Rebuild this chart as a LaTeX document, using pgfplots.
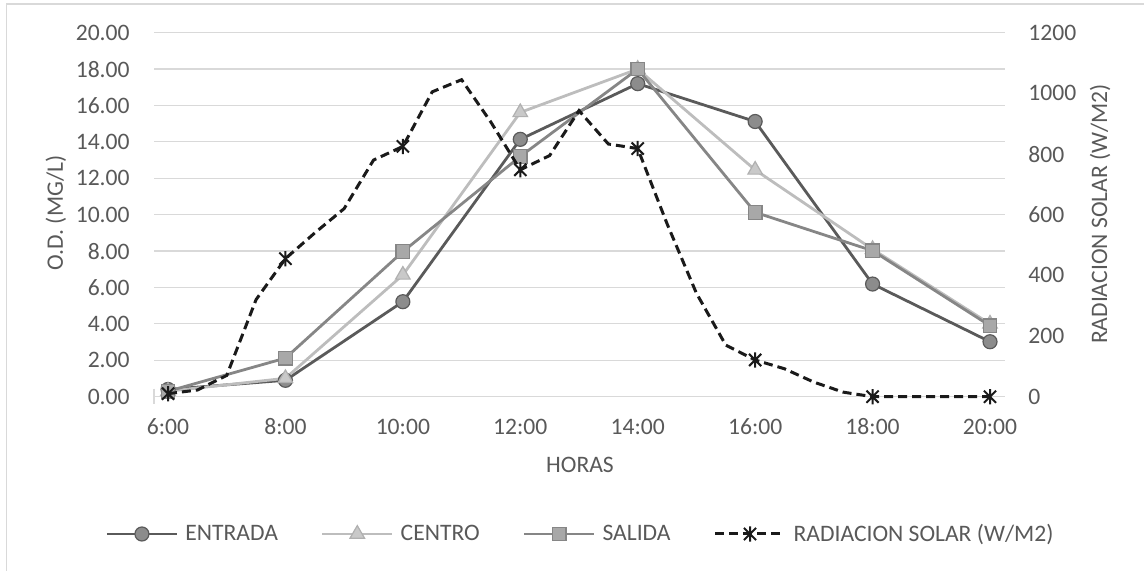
\documentclass[border=0pt]{standalone}
\usepackage{pgfplots}
\pgfplotsset{compat=1.18}
\usepackage{fontspec}
\setmainfont{Carlito}
\definecolor{txt}{HTML}{595959}
\definecolor{gridc}{HTML}{D9D9D9}
\definecolor{entl}{HTML}{5A5A5A}
\definecolor{entf}{HTML}{8C8C8C}
\definecolor{cenl}{HTML}{BDBDBD}
\definecolor{cenf}{HTML}{C9C9C9}
\definecolor{cene}{HTML}{B0B0B0}
\definecolor{sall}{HTML}{868686}
\definecolor{salf}{HTML}{A8A8A8}
\definecolor{radl}{HTML}{1A1A1A}
\pgfdeclareplotmark{xstar}{%
  \pgfpathmoveto{\pgfqpoint{0pt}{-\pgfplotmarksize}}%
  \pgfpathlineto{\pgfqpoint{0pt}{\pgfplotmarksize}}%
  \pgfpathmoveto{\pgfqpoint{-0.8\pgfplotmarksize}{-0.8\pgfplotmarksize}}%
  \pgfpathlineto{\pgfqpoint{0.8\pgfplotmarksize}{0.8\pgfplotmarksize}}%
  \pgfpathmoveto{\pgfqpoint{-0.8\pgfplotmarksize}{0.8\pgfplotmarksize}}%
  \pgfpathlineto{\pgfqpoint{0.8\pgfplotmarksize}{-0.8\pgfplotmarksize}}%
  \pgfusepathqstroke}
\newcommand{\lf}{\fontsize{11.8pt}{14pt}\selectfont}
\pgfplotsset{
  base/.style={scale only axis, width=425.5pt, height=182pt,
    at={(77pt,87.15pt)}, anchor=south west,
    xmin=5.7615, xmax=20.2555, ymin=0,
    tick style={draw=none},
    /pgf/number format/assume math mode=true,
    /pgf/number format/1000 sep={},
    ticklabel style={font=\lf, text=txt, inner sep=0pt},
  },
  entrada/.style={color=entl, line width=1.4pt, mark=*, mark size=3.5pt,
    mark options={fill=entf, draw=entl, line width=0.6pt}},
  centro/.style={color=cenl, line width=1.4pt, mark=triangle*, mark size=4.2pt,
    mark options={fill=cenf, draw=cene, line width=0.6pt}},
  salida/.style={color=sall, line width=1.4pt, mark=square*, mark size=3.4pt,
    mark options={fill=salf, draw=sall, line width=0.6pt}},
  radiacion/.style={color=radl, line width=1.5pt, dash pattern=on 4.5pt off 2.5pt,
    mark=xstar, mark size=3.8pt, mark repeat=4,
    mark options={solid, line width=1pt}},
}
\pgfplotstableread{
h  ent  cen  sal
6  0.40 0.30 0.30
8  0.90 1.01 2.12
10 5.22 6.69 7.97
12 14.14 15.62 13.20
14 17.20 18.00 18.00
16 15.12 12.46 10.13
18 6.19 8.10 8.02
20 3.02 4.00 3.90
}\odtable
\pgfplotstableread{
h    rad
6.0  10
6.5  22
7.0  70
7.5  320
8.0  455
8.5  540
9.0  620
9.5  780
10.0 825
10.5 1005
11.0 1045
11.5 905
12.0 748
12.5 795
13.0 943
13.5 833
14.0 818
14.5 570
15.0 341
15.5 170
16.0 121
16.5 92
17.0 48
17.5 15
18.0 0
18.5 0
19.0 0
19.5 0
20.0 0
}\radtable
\begin{document}
\begin{tikzpicture}
\useasboundingbox (0,0) rectangle (572pt,285.5pt);
\draw[gridc, line width=0.6pt] (3.35pt,-10pt) -- (3.35pt,283.5pt) -- (600pt,283.5pt);
\begin{axis}[base, ymax=20,
  axis x line*=bottom, axis y line*=left,
  x axis line style={draw=gridc, line width=0.6pt, -},
  y axis line style={draw=none},
  ytick={0,2,...,20},
  yticklabel={\pgfmathprintnumber[fixed,fixed zerofill,precision=2]{\tick}},
  yticklabel style={anchor=east, xshift=-12pt},
  xtick={6,8,...,20},
  xticklabels={6:00,8:00,10:00,12:00,14:00,16:00,18:00,20:00},
  xticklabel style={anchor=base, yshift=-18.7pt},
  ymajorgrids, grid style={draw=gridc, line width=0.6pt},
  clip=false,
]
\addplot[entrada] table[x=h, y=ent] {\odtable};
\addplot[centro] table[x=h, y=cen] {\odtable};
\addplot[salida] table[x=h, y=sal] {\odtable};
\end{axis}
\begin{axis}[base, ymax=1200,
  axis y line*=right, axis x line=none,
  y axis line style={draw=none},
  ytick={0,200,...,1200},
  yticklabel={\pgfmathprintnumber[fixed,precision=0]{\tick}},
  yticklabel style={anchor=west, xshift=11.5pt},
  clip=false,
  legend columns=4,
  legend cell align=left,
  legend image code/.code={\path[draw=none, fill=none] (0pt,-4pt) rectangle (35pt,4pt);
    \draw[mark repeat=2, mark phase=2, #1] plot coordinates {(0pt,0pt) (17.5pt,0pt) (35pt,0pt)};},
  legend style={at={(0.5,-0.3772)}, anchor=center, draw=none, fill=none,
    inner sep=0pt, font=\lf, text=txt,
    nodes={inner sep=0pt, text=txt},
    /tikz/every odd column/.append style={column sep=3.5pt},
    /tikz/every even column/.append style={column sep=21.5pt}},
]
\addlegendimage{entrada}
\addlegendentry{ENTRADA}
\addlegendimage{centro}
\addlegendentry{CENTRO}
\addlegendimage{salida}
\addlegendentry{SALIDA}
\addplot[radiacion] table[x=h, y=rad] {\radtable};
\addlegendentry{RADIACION SOLAR (W/M2)}
\end{axis}
\draw[gridc, line width=0.6pt] (77pt,91.2pt) -- (77pt,83.7pt);
\node[rotate=90, font=\lf, text=txt] at (28pt,179pt) {O.D. (MG/L)};
\node[rotate=90, font=\lf, text=txt] at (550pt,178.5pt) {RADIACION SOLAR (W/M2)};
\node[font=\lf, text=txt] at (290pt,53pt) {HORAS};
\end{tikzpicture}
\end{document}
